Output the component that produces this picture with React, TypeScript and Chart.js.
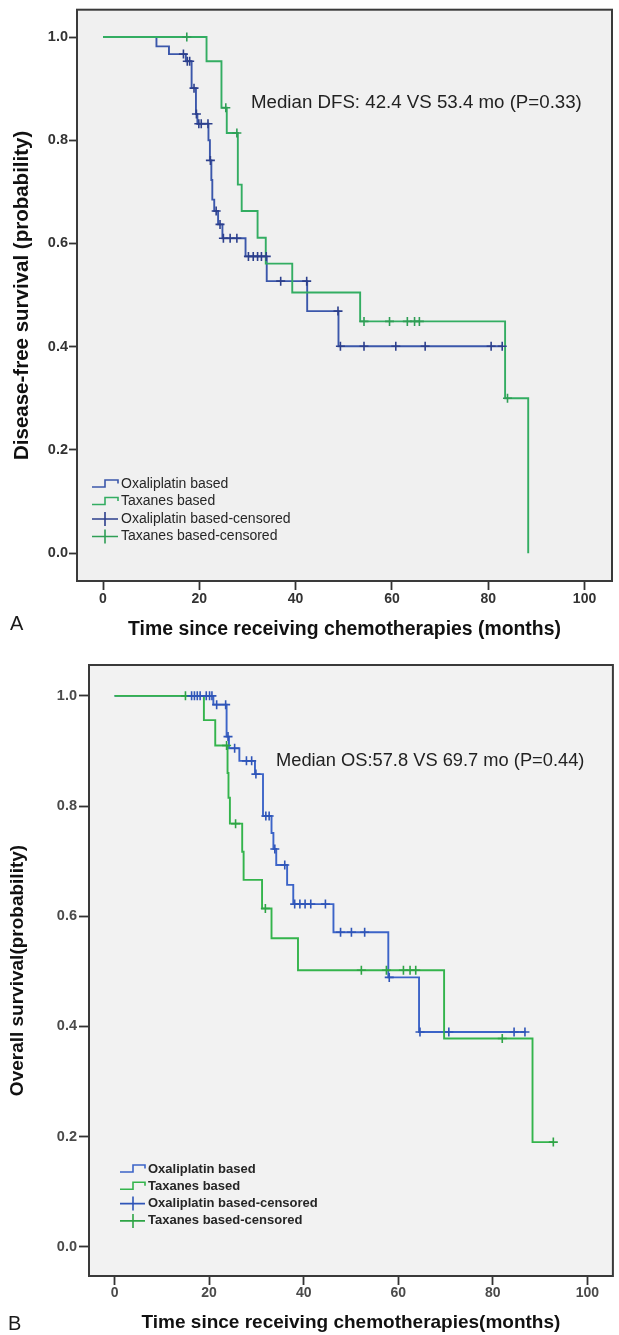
import React, { useEffect, useRef } from "react";
import { Chart, registerables } from "chart.js";

Chart.register(...registerables);

const FONT = '"Liberation Sans", Arial, Helvetica, sans-serif';

// ---------------- shared ticks / labels ----------------
const X_TICKS = [0, 20, 40, 60, 80, 100];
const Y_TICKS = [0, 0.2, 0.4, 0.6, 0.8, 1.0];
const LEGEND_LABELS = [
  "Oxaliplatin based",
  "Taxanes based",
  "Oxaliplatin based-censored",
  "Taxanes based-censored",
];

// ---------------- Panel A: disease-free survival ----------------
const A_OXA_TIME = [0, 11.1, 13.7, 17.2, 18.4, 19.3, 19.6, 21.9, 22.2, 22.5, 22.7, 23.1, 23.9, 24.8, 29.6, 34.0, 42.4, 48.9, 83.0];
const A_OXA_SURV = [1.0, 0.982, 0.967, 0.953, 0.901, 0.851, 0.832, 0.8, 0.761, 0.723, 0.685, 0.663, 0.637, 0.61, 0.575, 0.527, 0.469, 0.401, 0.401];
const A_OXA_CENS_TIME = [16.7, 17.5, 18.0, 18.9, 19.4, 19.9, 20.4, 21.8, 22.3, 23.5, 24.3, 25.0, 26.4, 27.8, 30.2, 31.2, 32.1, 32.9, 33.9, 36.9, 42.3, 48.8, 49.3, 54.2, 60.8, 66.9, 80.6, 82.9];
const A_OXA_CENS_SURV = [0.967, 0.953, 0.953, 0.901, 0.851, 0.832, 0.832, 0.832, 0.761, 0.663, 0.637, 0.61, 0.61, 0.61, 0.575, 0.575, 0.575, 0.575, 0.575, 0.527, 0.527, 0.469, 0.401, 0.401, 0.401, 0.401, 0.401, 0.401];

const A_TAX_TIME = [0, 21.5, 24.6, 25.7, 28.0, 28.8, 32.1, 33.8, 39.3, 53.4, 83.5, 88.3];
const A_TAX_SURV = [1.0, 0.953, 0.863, 0.814, 0.714, 0.663, 0.611, 0.561, 0.505, 0.449, 0.3, 0.0];
const A_TAX_CENS_TIME = [17.4, 25.5, 27.8, 54.2, 59.5, 63.2, 64.7, 65.7, 84.0];
const A_TAX_CENS_SURV = [1.0, 0.863, 0.814, 0.449, 0.449, 0.449, 0.449, 0.449, 0.3];

const A_NOTE = "Median DFS: 42.4 VS 53.4 mo (P=0.33)";
const A_X_TITLE = "Time since receiving chemotherapies (months)";
const A_Y_TITLE = "Disease-free survival (probability)";

// ---------------- Panel B: overall survival ----------------
const B_OXA_TIME = [0, 20.9, 23.7, 24.2, 26.4, 29.7, 31.4, 33.2, 33.6, 34.2, 36.5, 37.8, 46.3, 57.9, 64.4, 87.0];
const B_OXA_SURV = [1.0, 0.984, 0.926, 0.905, 0.882, 0.858, 0.782, 0.751, 0.722, 0.693, 0.657, 0.622, 0.571, 0.489, 0.39, 0.39];
const B_OXA_CENS_TIME = [16.3, 16.9, 17.5, 18.1, 19.4, 20.1, 20.6, 21.6, 23.5, 24.0, 25.4, 27.9, 29.0, 29.9, 32.0, 32.7, 33.9, 36.0, 38.1, 39.2, 40.3, 41.5, 44.6, 47.8, 50.1, 52.9, 58.1, 64.6, 70.7, 84.5, 86.8];
const B_OXA_CENS_SURV = [1, 1, 1, 1, 1, 1, 1, 0.984, 0.984, 0.926, 0.905, 0.882, 0.882, 0.858, 0.782, 0.782, 0.722, 0.693, 0.622, 0.622, 0.622, 0.622, 0.622, 0.571, 0.571, 0.571, 0.489, 0.39, 0.39, 0.39, 0.39];

const B_TAX_TIME = [0, 18.9, 21.3, 23.9, 24.1, 24.4, 27.0, 27.3, 31.2, 33.2, 38.8, 69.7, 88.4, 92.8];
const B_TAX_SURV = [1.0, 0.956, 0.91, 0.86, 0.815, 0.768, 0.717, 0.666, 0.614, 0.56, 0.502, 0.378, 0.19, 0.19];
const B_TAX_CENS_TIME = [15.0, 23.7, 25.6, 31.9, 52.2, 57.5, 61.1, 62.5, 63.7, 82.0, 92.8];
const B_TAX_CENS_SURV = [1.0, 0.91, 0.768, 0.614, 0.502, 0.502, 0.502, 0.502, 0.502, 0.378, 0.19];

const B_NOTE = "Median OS:57.8 VS 69.7 mo (P=0.44)";
const B_X_TITLE = "Time since receiving chemotherapies(months)";
const B_Y_TITLE = "Overall survival(probability)";

const pts = (t: number[], s: number[]) => t.map((x, i) => ({ x, y: s[i] }));

type Spec = any;

const SPEC_A: Spec = {
  top: 0, width: 619, height: 645,
  pad: { left: 0, right: 7, top: 9, bottom: 0 },
  yAxisWidth: 77, xAxisHeight: 64,
  xMin: -5.4, xMax: 105.7, yMin: -0.054, yMax: 1.053,
  yTickLen: 8, yTickPad: 1, xTickLen: 9, xTickPad: 1,
  tickFontY: 14.5, tickFontX: 14, tickColor: "#333333",
  xTitle: A_X_TITLE, yTitle: A_Y_TITLE, xTitleSize: 19.4, yTitleSize: 20.5,
  xTitlePad: 4, yTitlePad: 9.7,
  note: A_NOTE, noteSize: 18.7, noteX: 251, noteY: 103,
  letter: "A", letterX: 10, letterY: 624.5,
  legX0: 92, legXm: 105, legX1: 118, legTextX: 121, legY0: 484, legDy: 17.5,
  legFont: "14px " + FONT,
  plotBg: "#f0f0f0",
  oxaColor: "#3b57ab", oxaCens: "#2c3f8c", taxColor: "#33ad62", taxCens: "#2f9e55",
  oxa: [A_OXA_TIME, A_OXA_SURV, A_OXA_CENS_TIME, A_OXA_CENS_SURV],
  tax: [A_TAX_TIME, A_TAX_SURV, A_TAX_CENS_TIME, A_TAX_CENS_SURV],
};

const SPEC_B: Spec = {
  top: 645, width: 619, height: 690,
  pad: { left: 0, right: 6, top: 20, bottom: 0 },
  yAxisWidth: 89, xAxisHeight: 59,
  xMin: -5.4, xMax: 105.4, yMin: -0.053, yMax: 1.056,
  yTickLen: 10, yTickPad: 2, xTickLen: 9, xTickPad: 0,
  tickFontY: 14.5, tickFontX: 14, tickColor: "#4a4a4a",
  xTitle: B_X_TITLE, yTitle: B_Y_TITLE, xTitleSize: 19, yTitleSize: 19,
  xTitlePad: 0.6, yTitlePad: 6.6,
  note: B_NOTE, noteSize: 18.3, noteX: 276, noteY: 116,
  letter: "B", letterX: 8, letterY: 679,
  legX0: 120, legXm: 133, legX1: 145, legTextX: 148, legY0: 524, legDy: 17.3,
  legFont: "bold 13px " + FONT,
  plotBg: "#f2f2f2",
  oxaColor: "#3c64c8", oxaCens: "#2f55b8", taxColor: "#34b44c", taxCens: "#2ea445",
  oxa: [B_OXA_TIME, B_OXA_SURV, B_OXA_CENS_TIME, B_OXA_CENS_SURV],
  tax: [B_TAX_TIME, B_TAX_SURV, B_TAX_CENS_TIME, B_TAX_CENS_SURV],
};

function KMPanel({ spec }: { spec: Spec }) {
  const ref = useRef<HTMLCanvasElement | null>(null);

  useEffect(() => {
    const canvas = ref.current;
    if (!canvas) return;

    const overlay = {
      id: "kmOverlay",
      beforeDraw(chart: any) {
        const { ctx, chartArea } = chart;
        ctx.save();
        ctx.fillStyle = spec.plotBg;
        ctx.fillRect(chartArea.left, chartArea.top, chartArea.right - chartArea.left, chartArea.bottom - chartArea.top);
        ctx.restore();
      },
      afterDraw(chart: any) {
        const { ctx, chartArea } = chart;
        ctx.save();
        // plot frame
        ctx.strokeStyle = "#3a3a3a";
        ctx.lineWidth = 2;
        ctx.strokeRect(chartArea.left, chartArea.top, chartArea.right - chartArea.left, chartArea.bottom - chartArea.top);

        // annotation
        ctx.fillStyle = "#222222";
        ctx.font = spec.noteSize + "px " + FONT;
        ctx.textBaseline = "middle";
        ctx.textAlign = "left";
        ctx.fillText(spec.note, spec.noteX, spec.noteY);

        // panel letter
        ctx.font = "20px " + FONT;
        ctx.fillStyle = "#1a1a1a";
        ctx.fillText(spec.letter, spec.letterX, spec.letterY);

        // legend
        const colors = [spec.oxaColor, spec.taxColor, spec.oxaCens, spec.taxCens];
        for (let i = 0; i < LEGEND_LABELS.length; i++) {
          const y = spec.legY0 + i * spec.legDy;
          ctx.strokeStyle = colors[i];
          ctx.lineWidth = 1.6;
          ctx.beginPath();
          if (i < 2) {
            ctx.moveTo(spec.legX0, y + 3);
            ctx.lineTo(spec.legXm, y + 3);
            ctx.lineTo(spec.legXm, y - 4);
            ctx.lineTo(spec.legX1, y - 4);
            ctx.lineTo(spec.legX1, y - 0.5);
          } else {
            ctx.moveTo(spec.legX0, y);
            ctx.lineTo(spec.legX1, y);
            ctx.moveTo(spec.legXm, y - 7);
            ctx.lineTo(spec.legXm, y + 7);
          }
          ctx.stroke();
          ctx.fillStyle = "#262626";
          ctx.font = spec.legFont;
          ctx.fillText(LEGEND_LABELS[i], spec.legTextX, y);
        }
        ctx.restore();
      },
    };

    const [oT, oS, oCT, oCS] = spec.oxa;
    const [tT, tS, tCT, tCS] = spec.tax;

    const lineDs = (label: string, data: any, color: string, order: number) => ({
      label, data, borderColor: color, backgroundColor: color, borderWidth: 1.9,
      showLine: true, stepped: true, pointRadius: 0, fill: false, order,
    });
    const censDs = (label: string, data: any, color: string, order: number) => ({
      label, data, borderColor: color, backgroundColor: color, borderWidth: 1.6,
      showLine: false, pointStyle: "cross", pointRadius: 4.5, order,
    });

    const chart = new Chart(canvas, {
      type: "scatter",
      data: {
        datasets: [
          censDs(LEGEND_LABELS[2], pts(oCT, oCS), spec.oxaCens, 0),
          censDs(LEGEND_LABELS[3], pts(tCT, tCS), spec.taxCens, 0),
          lineDs(LEGEND_LABELS[1], pts(tT, tS), spec.taxColor, 1),
          lineDs(LEGEND_LABELS[0], pts(oT, oS), spec.oxaColor, 2),
        ] as any,
      },
      options: {
        animation: false,
        responsive: false,
        maintainAspectRatio: false,
        devicePixelRatio: 1,
        events: [],
        layout: { padding: spec.pad },
        plugins: { legend: { display: false }, tooltip: { enabled: false } },
        scales: {
          x: {
            type: "linear",
            min: spec.xMin,
            max: spec.xMax,
            afterBuildTicks: (scale: any) => {
              scale.ticks = X_TICKS.map((v) => ({ value: v }));
            },
            afterFit: (scale: any) => {
              scale.height = spec.xAxisHeight;
            },
            border: { display: false },
            grid: {
              display: true, drawOnChartArea: false, drawTicks: true,
              tickLength: spec.xTickLen, tickColor: "#333333", tickWidth: 1.8,
            },
            ticks: {
              padding: spec.xTickPad, color: spec.tickColor, maxRotation: 0, autoSkip: false,
              font: { family: FONT, size: spec.tickFontX, weight: "bold" },
              callback: (v: any) => String(v),
            },
            title: {
              display: true, text: spec.xTitle, color: "#111111",
              font: { family: FONT, size: spec.xTitleSize, weight: "bold" },
              padding: { top: 0, bottom: spec.xTitlePad },
            },
          },
          y: {
            type: "linear",
            min: spec.yMin,
            max: spec.yMax,
            afterBuildTicks: (scale: any) => {
              scale.ticks = Y_TICKS.map((v) => ({ value: v }));
            },
            afterFit: (scale: any) => {
              scale.width = spec.yAxisWidth;
            },
            border: { display: false },
            grid: {
              display: true, drawOnChartArea: false, drawTicks: true,
              tickLength: spec.yTickLen, tickColor: "#333333", tickWidth: 1.8,
            },
            ticks: {
              padding: spec.yTickPad, color: spec.tickColor, autoSkip: false,
              font: { family: FONT, size: spec.tickFontY, weight: "bold" },
              callback: (v: any) => Number(v).toFixed(1),
            },
            title: {
              display: true, text: spec.yTitle, color: "#111111",
              font: { family: FONT, size: spec.yTitleSize, weight: "bold" },
              padding: { top: spec.yTitlePad, bottom: 0 },
            },
          },
        },
      } as any,
      plugins: [overlay],
    });

    return () => chart.destroy();
  }, [spec]);

  return (
    <canvas
      ref={ref}
      width={spec.width}
      height={spec.height}
      style={{ position: "absolute", left: 0, top: spec.top, width: spec.width, height: spec.height, display: "block" }}
    />
  );
}

export default function App() {
  return (
    <div style={{ position: "absolute", left: 0, top: 0, width: 619, height: 1335, background: "#ffffff", overflow: "hidden" }}>
      <KMPanel spec={SPEC_A} />
      <KMPanel spec={SPEC_B} />
    </div>
  );
}
